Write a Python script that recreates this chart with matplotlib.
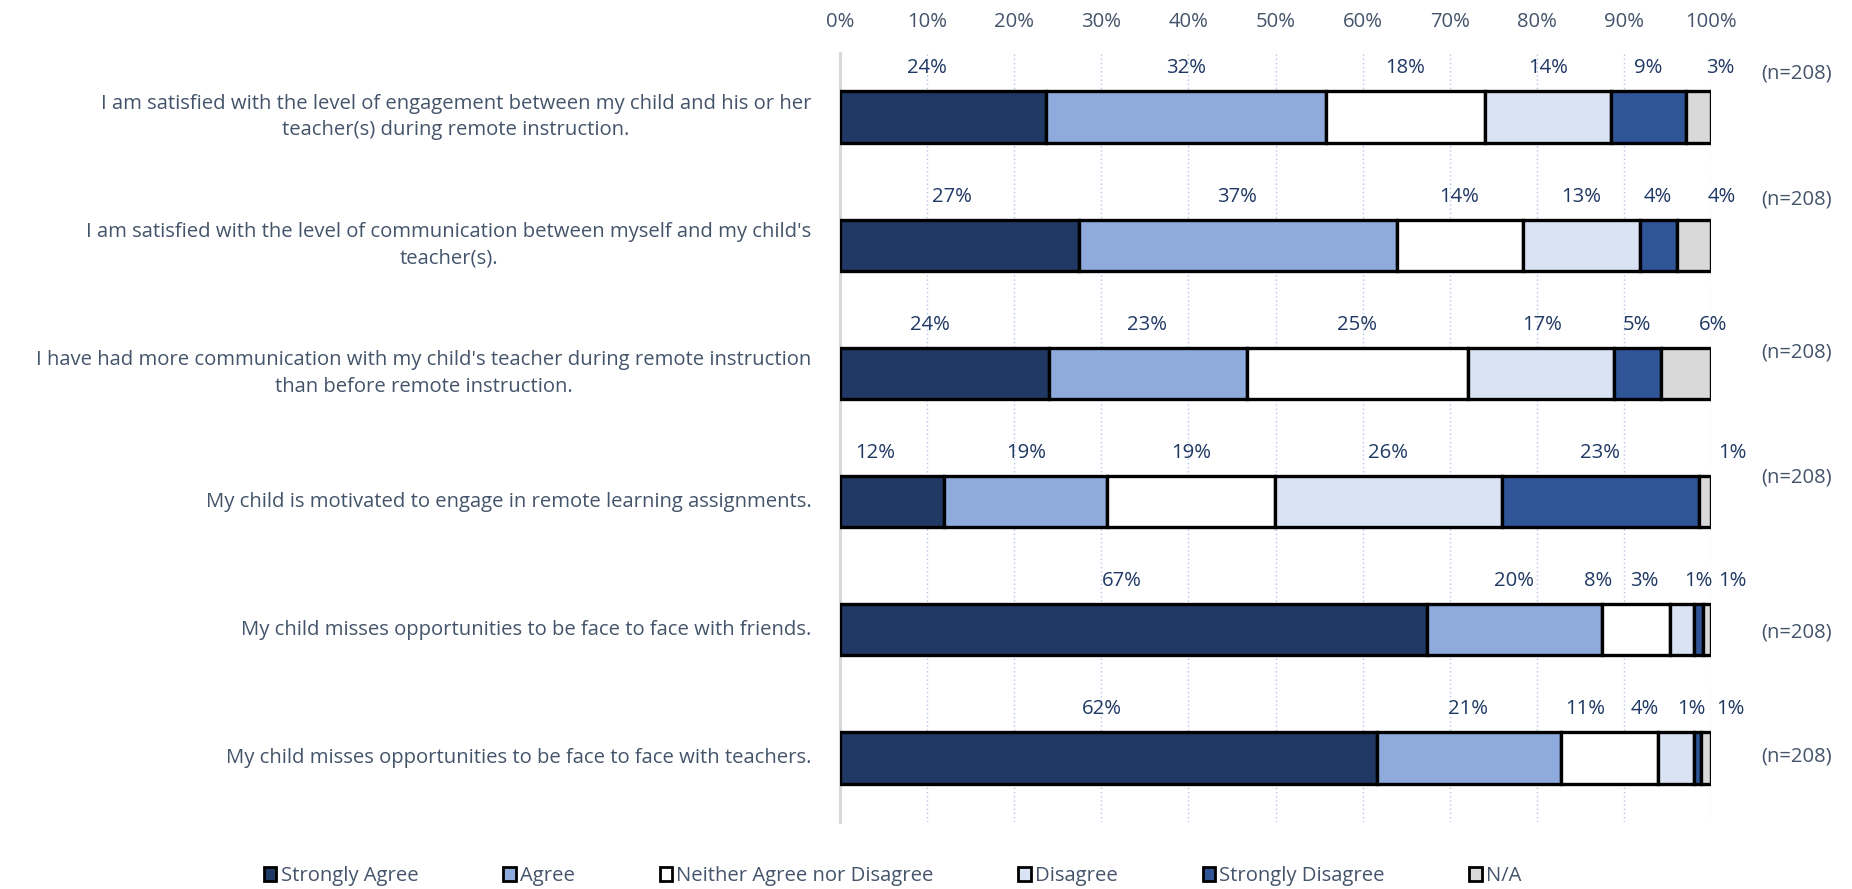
import matplotlib
matplotlib.use("Agg")
import matplotlib.pyplot as plt
from matplotlib import font_manager
from matplotlib.patches import Patch
import numpy as np

# 字体: Calibri 不在, 用窄体代替
names = {f.name for f in font_manager.fontManager.ttflist}
if 'Liberation Sans Narrow' in names:
    plt.rcParams['font.family'] = ['Liberation Sans Narrow', 'DejaVu Sans']
    fs = 16.5
else:
    plt.rcParams['font.family'] = ['Open Sans', 'DejaVu Sans']
    fs = 14.6

#=======================================================================================================================
questions = [
    "I am satisfied with the level of engagement between my child and his or her\nteacher(s) during remote instruction.",
    "I am satisfied with the level of communication between myself and my child's\nteacher(s).",
    "I have had more communication with my child's teacher during remote instruction\nthan before remote instruction.",
    "My child is motivated to engage in remote learning assignments.",
    "My child misses opportunities to be face to face with friends.",
    "My child misses opportunities to be face to face with teachers.",
]
responses = ['Strongly Agree', 'Agree', 'Neither Agree nor Disagree', 'Disagree', 'Strongly Disagree', 'N/A']

strongly_agree = [23.6, 27.4, 24.0, 11.9, 67.4, 61.6]
agree = [32.2, 36.6, 22.7, 18.8, 20.1, 21.2]
neither = [18.3, 14.4, 25.4, 19.2, 7.8, 11.1]
disagree = [14.4, 13.4, 16.8, 26.1, 2.8, 4.2]
strongly_disagree = [8.6, 4.3, 5.4, 22.6, 1.0, 0.8]
na = [2.9, 3.9, 5.7, 1.4, 0.9, 1.1]
n_resp = [208, 208, 208, 208, 208, 208]

series = [strongly_agree, agree, neither, disagree, strongly_disagree, na]
colors = ['#203864', '#8FAADC', '#FFFFFF', '#DAE3F3', '#2F5597', '#D9D9D9']

# 数据标签的位置 (Excel 里手动拖过的)
label_x = [
    [10.0, 39.7, 64.9, 81.3, 92.8, 101.1],
    [12.8, 45.6, 71.1, 85.1, 93.9, 101.2],
    [10.3, 35.3, 59.4, 80.6, 91.5, 100.2],
    [4.0, 21.4, 40.3, 62.9, 87.3, 102.4],
    [32.4, 77.4, 87.0, 92.3, 98.5, 102.4],
    [30.1, 72.1, 85.6, 92.4, 97.7, 102.2],
]
n_dy = [-0.34, -0.36, -0.16, -0.19, 0.02, -0.01]

txt_col = '#44546A'
lab_col = '#203864'

fig = plt.figure(figsize=(18.52, 8.89), dpi=100)
ax = fig.add_axes([840/1852, 1-822/889, 871/1852, 769/889])

y = np.arange(len(questions))
left = np.zeros(len(questions))
for vals, col, name in zip(series, colors, responses):
    ax.barh(y, vals, left=left, height=0.40, color=col, edgecolor='black', linewidth=2.4, label=name, zorder=3)
    left += np.array(vals)

for i in range(len(questions)):
    for j, vals in enumerate(series):
        ax.text(label_x[i][j], y[i]-0.38, '%.0f%%' % vals[i], ha='center', va='center',
                fontsize=fs, color=lab_col, clip_on=False)
    ax.text(109.8, y[i]+n_dy[i], '(n=%d)' % n_resp[i], ha='center', va='center',
            fontsize=fs, color=txt_col, clip_on=False)
    ax.text(-3.3, y[i], questions[i], ha='right', va='center', multialignment='center',
            fontsize=fs, color=txt_col, linespacing=1.45)

ax.set_xlim(0, 100)
ax.set_ylim(len(questions)-0.5, -0.5)
ax.set_yticks([])
ax.xaxis.tick_top()
ax.set_xticks(np.arange(0, 101, 10))
ax.set_xticklabels(['%d%%' % v for v in range(0, 101, 10)])
ax.tick_params(axis='x', length=0, pad=15, labelsize=fs, labelcolor=txt_col)
ax.grid(axis='x', color='#B4C7E7', linestyle=(0, (1, 2)), linewidth=1.0, zorder=0)
ax.set_axisbelow(True)
for s in ['top', 'right', 'bottom']:
    ax.spines[s].set_visible(False)
ax.spines['left'].set_color('#D9D9D9')
ax.spines['left'].set_linewidth(2.2)

handles = [Patch(facecolor=c, edgecolor='black', linewidth=2.0) for c in colors]
fig.legend(handles, responses, loc='center', bbox_to_anchor=(0.482, 1-876/889), ncol=6, frameon=False,
           fontsize=fs, labelcolor=txt_col, handlelength=0.6, handleheight=0.7, handletextpad=0.2,
           columnspacing=4.2)

fig.savefig('out.png', dpi=100)
